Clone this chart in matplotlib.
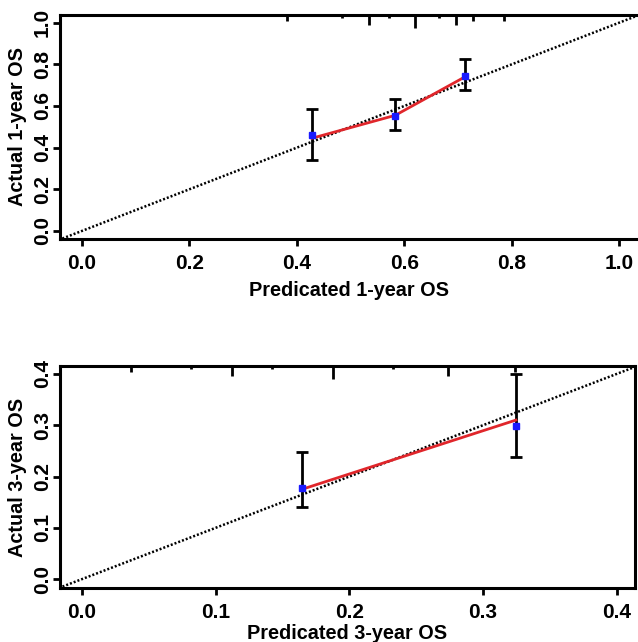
import matplotlib
matplotlib.use("Agg")
import matplotlib.pyplot as plt
import numpy as np

plt.rcParams["font.family"] = ["Liberation Sans", "DejaVu Sans"]
plt.rcParams["font.weight"] = "bold"

# ── 1-year calibration ───────────────────────────────────────────────────────
pred_1y     = [0.428, 0.583, 0.713]
obs_1y      = [0.460, 0.553, 0.745]
corr_1y     = [0.445, 0.555, 0.740]
lo_1y       = [0.340, 0.485, 0.678]
hi_1y       = [0.585, 0.635, 0.827]
rug_x_1y    = [0.382, 0.484, 0.534, 0.572, 0.620, 0.665, 0.696, 0.728, 0.786]
rug_n_1y    = [2, 1, 3, 1, 4, 1, 3, 2, 2]
ticks_1y    = [0.0, 0.2, 0.4, 0.6, 0.8, 1.0]

# ── 3-year calibration ───────────────────────────────────────────────────────
pred_3y     = [0.1645, 0.3246]
obs_3y      = [0.177, 0.298]
corr_3y     = [0.175, 0.310]
lo_3y       = [0.140, 0.238]
hi_3y       = [0.248, 0.400]
rug_x_3y    = [0.037, 0.0815, 0.112, 0.142, 0.188, 0.233, 0.274, 0.324]
rug_n_3y    = [2, 1, 3, 1, 4, 1, 3, 2]
ticks_3y    = [0.0, 0.1, 0.2, 0.3, 0.4]

fig = plt.figure(figsize=(6.38, 6.42), dpi=100)
ax1 = fig.add_axes([0.094, 0.628, 0.906, 0.349])
ax2 = fig.add_axes([0.094, 0.084, 0.901, 0.346])


def panel(ax, pred, obs, corr, lo, hi, rug_x, rug_n, ticks, xlim, ylim,
          xlabel, ylabel, right_spine=True, xpad=6):
    ax.plot([-1, 2], [-1, 2], color="black", lw=1.8, ls=(0, (0.8, 0.8)),
            zorder=2)
    err = [np.array(obs) - np.array(lo), np.array(hi) - np.array(obs)]
    ax.errorbar(pred, obs, yerr=err, fmt="none", ecolor="black",
                elinewidth=2, capsize=4, capthick=2, zorder=3)
    ax.plot(pred, corr, color="#e0262b", lw=2, zorder=4)
    ax.plot(pred, obs, "s", color="#1a1aff", ms=5, zorder=5)
    # rug of predicted values hanging from the top spine
    tr = ax.get_xaxis_transform()
    for x, n in zip(rug_x, rug_n):
        ax.plot([x, x], [1.0, 1.0 - 0.0145 * n], color="black", lw=2,
                transform=tr, solid_capstyle="butt", zorder=3)

    ax.set_xlim(*xlim)
    ax.set_ylim(*ylim)
    ax.set_xticks(ticks)
    ax.set_yticks(ticks)
    ax.set_xticklabels([f"{t:.1f}" for t in ticks], fontsize=15,
                       fontweight="bold")
    ax.set_yticklabels([f"{t:.1f}" for t in ticks], fontsize=15,
                       fontweight="bold", rotation=90, va="center")
    ax.tick_params(direction="out", length=5, width=2, pad=1)
    ax.tick_params(axis="x", pad=6)
    for s in ax.spines.values():
        s.set_linewidth(2.2)
    if not right_spine:
        ax.spines["right"].set_visible(False)
    ax.set_xlabel(xlabel, fontsize=14.3, fontweight="bold", labelpad=xpad)
    ax.set_ylabel(ylabel, fontsize=14.3, fontweight="bold", labelpad=4)


panel(ax1, pred_1y, obs_1y, corr_1y, lo_1y, hi_1y, rug_x_1y, rug_n_1y,
      ticks_1y, (-0.041, 1.035), (-0.038, 1.038),
      "Predicated 1-year OS", "Actual 1-year OS", right_spine=False)
panel(ax2, pred_3y, obs_3y, corr_3y, lo_3y, hi_3y, rug_x_3y, rug_n_3y,
      ticks_3y, (-0.0165, 0.4136), (-0.0175, 0.4156),
      "Predicated 3-year OS", "Actual 3-year OS", xpad=1.5)

fig.savefig("out.png", dpi=100)
